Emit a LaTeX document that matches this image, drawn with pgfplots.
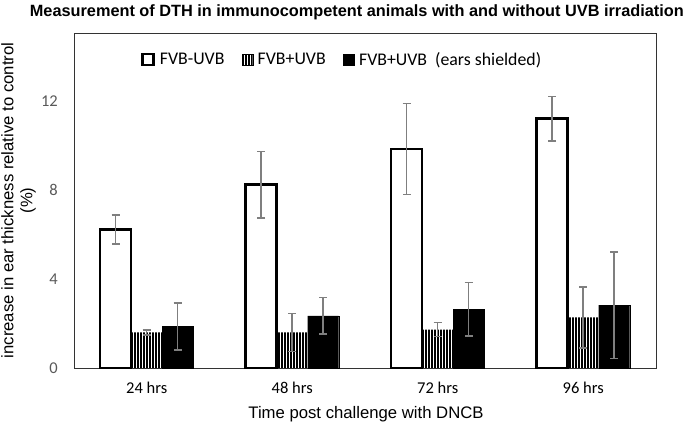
\documentclass[border=0pt]{standalone}
\usepackage{pgfplots}
\pgfplotsset{compat=1.18}
\usetikzlibrary{patterns.meta}
\usepackage{fontspec}
\setmainfont{Liberation Sans}
\newfontfamily\calibri{Carlito}
\definecolor{errgray}{HTML}{7F7F7F}
\definecolor{ticklab}{HTML}{595959}
\begin{document}
\begin{tikzpicture}
\useasboundingbox (-74pt,-58pt) rectangle (615pt,368pt);
\begin{axis}[
  at={(0pt,0pt)}, anchor=south west,
  scale only axis, width=582pt, height=335pt,
  xmin=-0.5, xmax=3.5, ymin=0, ymax=15.08,
  ybar=0pt, bar width=31pt,
  xtick={0,1,2,3}, xticklabels={24 hrs,48 hrs,72 hrs,96 hrs},
  ytick={0,4,8,12},
  /pgf/number format/assume math mode=true,
  major tick length=0pt,
  axis line style={black!80, line width=0.9pt},
  xticklabel style={font=\calibri\fontsize{16.5}{18}\selectfont, text=black, inner sep=0pt, yshift=-14pt},
  yticklabel style={font=\calibri\fontsize{16.5}{18}\selectfont, text=ticklab, inner sep=0pt, xshift=-16pt},
  xlabel={Time post challenge with DNCB},
  xlabel style={at={(axis description cs:0.5,0)}, anchor=north, inner sep=0pt, yshift=-38pt, xshift=1pt, font=\fontsize{16.7}{19}\selectfont},
  ylabel={increase in ear thickness relative to control\\(\%)},
  ylabel style={at={([xshift=-38pt]axis description cs:0,0.5)}, anchor=south, rotate=0, align=center, inner sep=0pt, font=\fontsize{16.7}{19}\selectfont},
  legend style={draw=none, fill=none, at={(0.461,0.955)}, anchor=north, legend columns=-1,
    font=\calibri\fontsize{17.8}{20}\selectfont,
    /tikz/every even column/.append style={column sep=15pt},
    legend cell align=left},
  legend image code/.code={\draw[#1] (0pt,-5.5pt) rectangle (11pt,5.5pt); \path (14pt,0pt);},
  error bars/y dir=both, error bars/y explicit,
  error bars/error bar style={errgray, line width=1.5pt},
  error bars/error mark options={rotate=90, mark size=4pt, errgray, line width=1.5pt},
  clip=false,
]
\addplot[fill=white, draw=black, line width=2.5pt] coordinates {
  (0,6.23) +- (0,0.65)
  (1,8.25) +- (0,1.5)
  (2,9.86) +- (0,2.05)
  (3,11.22) +- (0,1.0)
};
\addplot[draw=none, pattern={Lines[angle=90,distance=3pt,line width=1.5pt]}, pattern color=black] coordinates {
  (0,1.60) +- (0,0.11)
  (1,1.60) +- (0,0.85)
  (2,1.73) +- (0,0.32)
  (3,2.28) +- (0,1.37)
};
\addplot[fill=black, draw=black] coordinates {
  (0,1.86) +- (0,1.06)
  (1,2.35) +- (0,0.82)
  (2,2.65) +- (0,1.2)
  (3,2.83) +- (0,2.4)
};
\legend{FVB-UVB, FVB+UVB, FVB+UVB\ \ (ears shielded)}
\node[font=\bfseries\fontsize{16.3}{18}\selectfont, anchor=center] at ([yshift=21pt]rel axis cs:0.486,1) {Measurement of DTH in immunocompetent animals with and without UVB irradiation};
\end{axis}
\end{tikzpicture}
\end{document}
